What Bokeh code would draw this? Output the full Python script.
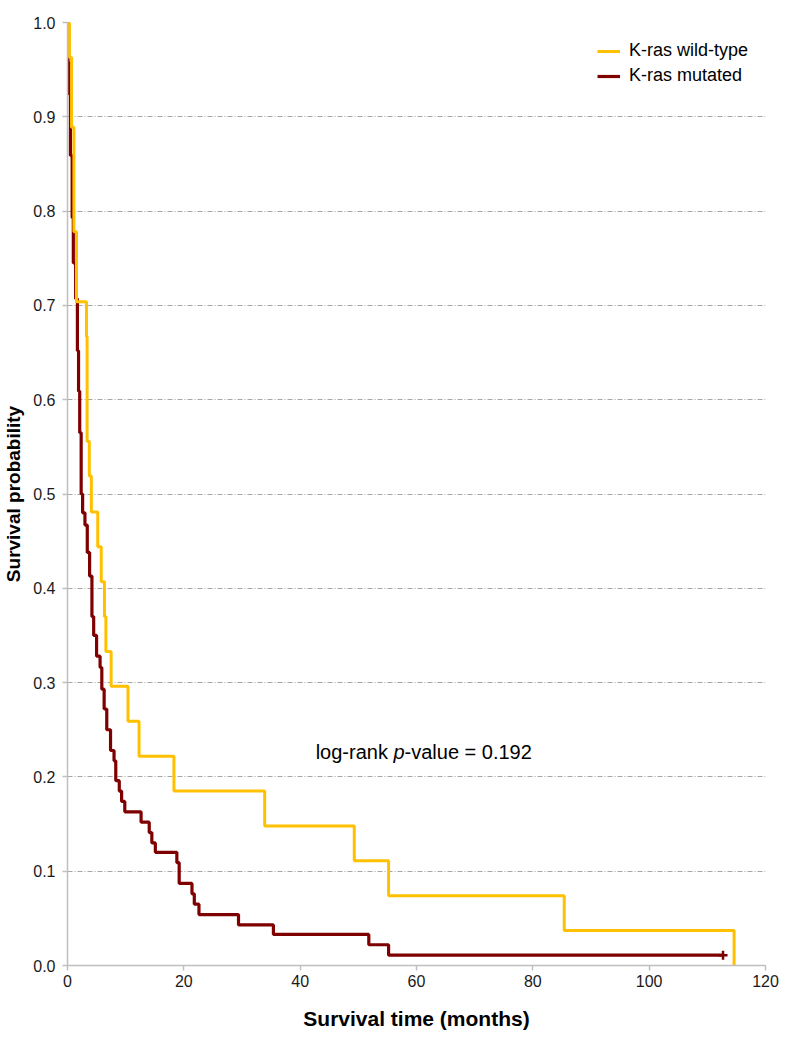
from bokeh.plotting import figure
from bokeh.models import Range1d, FixedTicker, NumeralTickFormatter, Legend, LegendItem, Label
from bokeh.embed import file_html
from bokeh.resources import INLINE

# ---- data ----
wt_times = [0.0, 0.35, 0.7, 1.1, 1.55, 3.26, 3.37, 3.75, 4.1, 5.2, 5.8, 6.35, 6.6,
            7.5, 10.4, 12.3, 18.3, 33.9, 49.3, 55.2, 85.4, 114.6]
wt_surv = [1.0, 0.963, 0.889, 0.778, 0.704, 0.667, 0.556, 0.519, 0.481, 0.444, 0.407,
           0.370, 0.333, 0.296, 0.259, 0.222, 0.185, 0.148, 0.111, 0.074, 0.037, 0.0]

mut_times = [0.0, 0.1, 0.3, 0.5, 0.8, 1.0, 1.4, 1.7, 1.9, 2.1, 2.35, 2.6, 3.0, 3.4,
             3.8, 4.2, 4.5, 5.0, 5.6, 5.9, 6.3, 6.75, 7.4, 8.0, 8.3, 8.9, 9.3, 9.85,
             12.65, 14.05, 14.5, 15.1, 18.8, 19.2, 21.4, 21.8, 22.6, 29.4, 35.4,
             51.8, 55.2, 112.7]
mut_surv = [1.0, 0.957, 0.924, 0.859, 0.793, 0.745, 0.707, 0.652, 0.609, 0.565, 0.500,
            0.480, 0.467, 0.438, 0.413, 0.370, 0.350, 0.328, 0.316, 0.293, 0.272,
            0.250, 0.228, 0.217, 0.196, 0.185, 0.174, 0.163, 0.152, 0.141, 0.130,
            0.120, 0.109, 0.087, 0.076, 0.065, 0.054, 0.043, 0.033, 0.022, 0.011,
            0.011]

mut_cens_t = [0.0, 112.7]
mut_cens_s = [0.957, 0.011]

x_ticks = [0, 20, 40, 60, 80, 100, 120]
y_ticks = [0.0, 0.1, 0.2, 0.3, 0.4, 0.5, 0.6, 0.7, 0.8, 0.9, 1.0]

series_names = ["K-ras wild-type", "K-ras mutated"]
wt_color = "#FFC000"
mut_color = "#7F0000"

FONT = "Liberation Sans"

p = figure(width=779, height=1034, output_backend="svg", toolbar_location=None,
           x_range=Range1d(0, 120), y_range=Range1d(0, 1),
           min_border_left=62, min_border_right=14, min_border_top=22,
           min_border_bottom=69)
p.outline_line_color = None
p.background_fill_color = "white"
p.border_fill_color = "white"

# grid
p.xgrid.grid_line_color = None
p.ygrid.ticker = FixedTicker(ticks=y_ticks)
p.ygrid.grid_line_color = "#A6A6A6"
p.ygrid.grid_line_width = 1
p.ygrid.grid_line_dash = "5 2 1 2"

# axes
for ax in (p.xaxis[0], p.yaxis[0]):
    ax.axis_line_color = "#BFBFBF"
    ax.axis_line_width = 1.5
    ax.major_tick_line_color = "#BFBFBF"
    ax.major_tick_line_width = 1.5
    ax.major_tick_out = 5
    ax.major_tick_in = 0
    ax.minor_tick_line_color = None
    ax.major_label_text_font = FONT
    ax.major_label_text_font_size = "16px"
    ax.major_label_text_color = "#1a1a1a"
    ax.axis_label_text_font = FONT
    ax.axis_label_text_font_style = "bold"
    ax.axis_label_text_color = "#000000"

p.xaxis.ticker = FixedTicker(ticks=x_ticks)
p.xaxis.major_label_standoff = 4
p.xaxis.axis_label = "Survival time (months)"
p.xaxis.axis_label_text_font_size = "21px"
p.xaxis.axis_label_standoff = 17

p.yaxis.ticker = FixedTicker(ticks=y_ticks)
p.yaxis.formatter = NumeralTickFormatter(format="0.0")
p.yaxis.major_label_standoff = 7
p.yaxis.axis_label = "Survival probability"
p.yaxis.axis_label_text_font_size = "19px"
p.yaxis.axis_label_standoff = 6

# curves
r_mut = p.step(mut_times, mut_surv, mode="after", line_color=mut_color, line_width=3.2)
p.scatter(mut_cens_t, mut_cens_s, marker="cross", size=9, line_color=mut_color,
          line_width=2.5)
r_wt = p.step(wt_times, wt_surv, mode="after", line_color=wt_color, line_width=3)

legend = Legend(items=[LegendItem(label=series_names[0], renderers=[r_wt]),
                       LegendItem(label=series_names[1], renderers=[r_mut])],
                location=(530, 879))
legend.border_line_color = None
legend.background_fill_alpha = 0
legend.padding = 0
legend.margin = 0
legend.spacing = 4
legend.glyph_width = 23
legend.glyph_height = 20
legend.label_height = 20
legend.label_standoff = 9
legend.label_text_font = FONT
legend.label_text_font_size = "18px"
legend.label_text_color = "#000000"
p.add_layout(legend)

# annotation with italic p
ann_x, ann_y = 42.66, 0.226
parts = [("log-rank ", "normal", 0), ("p", "italic", 77.8), ("-value = 0.192", "normal", 88.9)]
for txt, style, off in parts:
    p.add_layout(Label(x=ann_x, y=ann_y, x_offset=off, text=txt,
                       text_font=FONT, text_font_size="20px", text_font_style=style,
                       text_baseline="middle", text_align="left", text_color="#000000"))

open("out.html", "w").write(file_html(p, INLINE))
